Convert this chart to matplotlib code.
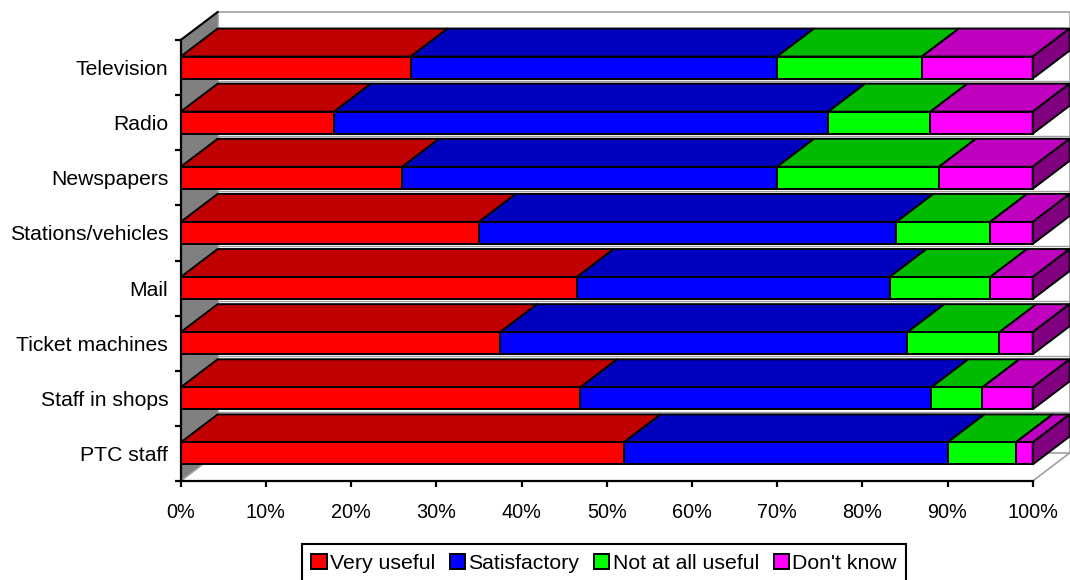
import matplotlib
matplotlib.use("Agg")
import matplotlib.pyplot as plt
from matplotlib.patches import Polygon, Patch
from matplotlib.lines import Line2D

plt.rcParams['font.family'] = ['Liberation Sans', 'DejaVu Sans']

# ---- data (percent of respondents) ----
categories = ["Television", "Radio", "Newspapers", "Stations/vehicles",
              "Mail", "Ticket machines", "Staff in shops", "PTC staff"]
very_useful = [27, 18, 26, 35, 46.5, 37.5, 46.9, 52]
satisfactory = [43, 58, 44, 49, 36.7, 47.8, 41.2, 38]
not_useful = [17, 12, 19, 11, 11.8, 10.8, 6.0, 8]
dont_know = [13, 12, 11, 5, 5.0, 3.9, 5.9, 2]
series_names = ["Very useful", "Satisfactory", "Not at all useful", "Don't know"]
x_ticks = [0, 10, 20, 30, 40, 50, 60, 70, 80, 90, 100]

# ---- styling ----
front_colors = ["#FF0000", "#0000FF", "#00FF00", "#FF00FF"]
top_colors = ["#C00000", "#0000BF", "#00BB00", "#BF00BF"]
end_colors = ["#800000", "#000080", "#008000", "#800080"]
DX = 4.34      # depth offset along x (percent units)
DY = 0.508     # depth offset along y (category units)
BAR_H = 0.40
EDGE_LW = 1.4

fig = plt.figure(figsize=(10.7, 5.8), dpi=100)
W, H = 1070, 580
ax = fig.add_axes([180.7 / W, (H - 481) / H, 852 / W, 441 / H])
n = len(categories)
ax.set_xlim(0, 100)
ax.set_ylim(0, n)

# walls and floor
back_wall = Polygon([(DX, DY), (100 + DX, DY), (100 + DX, n + DY), (DX, n + DY)],
                    closed=True, facecolor="white", edgecolor="#A0A0A0",
                    lw=1.2, clip_on=False, zorder=0.5)
ax.add_patch(back_wall)
left_wall = Polygon([(0, 0), (DX, DY), (DX, n + DY), (0, n)], closed=True,
                    facecolor="#808080", edgecolor="none", clip_on=False, zorder=0.6)
ax.add_patch(left_wall)
ax.add_line(Line2D([0, DX], [n, n + DY], color="black", lw=1.5,
                   clip_on=False, zorder=0.7))
ax.add_line(Line2D([0, DX], [0, DY], color="#A0A0A0", lw=1.2,
                   clip_on=False, zorder=0.7))
ax.add_line(Line2D([100, 100 + DX], [0, DY], color="#A0A0A0", lw=1.2,
                   clip_on=False, zorder=0.7))

series = [very_useful, satisfactory, not_useful, dont_know]
for i, cat in enumerate(categories):
    yc = n - 0.5 - i
    y0, y1 = yc - BAR_H / 2, yc + BAR_H / 2
    # thin line on the back wall in the gap beneath each bar
    if i < n - 1:
        ax.add_line(Line2D([DX, 100 + DX], [y0 - 0.04, y0 - 0.04], color="#A0A0A0",
                           lw=1.0, clip_on=False, zorder=0.8))
    left = 0.0
    for s, vals in enumerate(series):
        v = vals[i]
        x0, x1 = left, left + v
        top = Polygon([(x0, y1), (x1, y1), (x1 + DX, y1 + DY), (x0 + DX, y1 + DY)],
                      closed=True, facecolor=top_colors[s], edgecolor="black",
                      lw=EDGE_LW, joinstyle="miter", clip_on=False, zorder=2)
        ax.add_patch(top)
        front = Polygon([(x0, y0), (x1, y0), (x1, y1), (x0, y1)], closed=True,
                        facecolor=front_colors[s], edgecolor="black",
                        lw=EDGE_LW, joinstyle="miter", clip_on=False, zorder=3)
        ax.add_patch(front)
        left = x1
    s_last = len(series) - 1
    end = Polygon([(left, y0), (left + DX, y0 + DY), (left + DX, y1 + DY), (left, y1)],
                  closed=True, facecolor=end_colors[s_last], edgecolor="black",
                  lw=EDGE_LW, joinstyle="miter", clip_on=False, zorder=3)
    ax.add_patch(end)

# axes
for side in ["top", "right"]:
    ax.spines[side].set_visible(False)
for side in ["left", "bottom"]:
    ax.spines[side].set_linewidth(1.6)
    ax.spines[side].set_color("black")
    ax.spines[side].set_zorder(5)

ax.set_xticks(x_ticks)
ax.set_xticklabels([f"{t}%" for t in x_ticks], fontsize=14.3)
ax.tick_params(axis="x", direction="out", length=4, width=1.6, pad=11.5)

ax.set_yticks(range(n + 1))
ax.set_yticklabels([])
ax.set_yticks([n - 0.5 - i for i in range(n)], minor=True)
ax.set_yticklabels(categories, minor=True, fontsize=15.2)
ax.tick_params(axis="y", which="major", direction="out", length=4, width=1.6)
ax.tick_params(axis="y", which="minor", length=0, pad=9)

handles = [Patch(facecolor=c, edgecolor="black", lw=1.4) for c in front_colors]
leg = fig.legend(handles, series_names, loc="upper center",
                 bbox_to_anchor=(604 / W, 1 - 544 / H), ncol=4, fontsize=15.3,
                 handlelength=0.72, handleheight=0.72, handletextpad=0.15,
                 columnspacing=0.7, borderpad=0.45, borderaxespad=0,
                 fancybox=False, framealpha=1, edgecolor="black")
leg.get_frame().set_linewidth(1.5)

fig.savefig("out.png", dpi=100)
